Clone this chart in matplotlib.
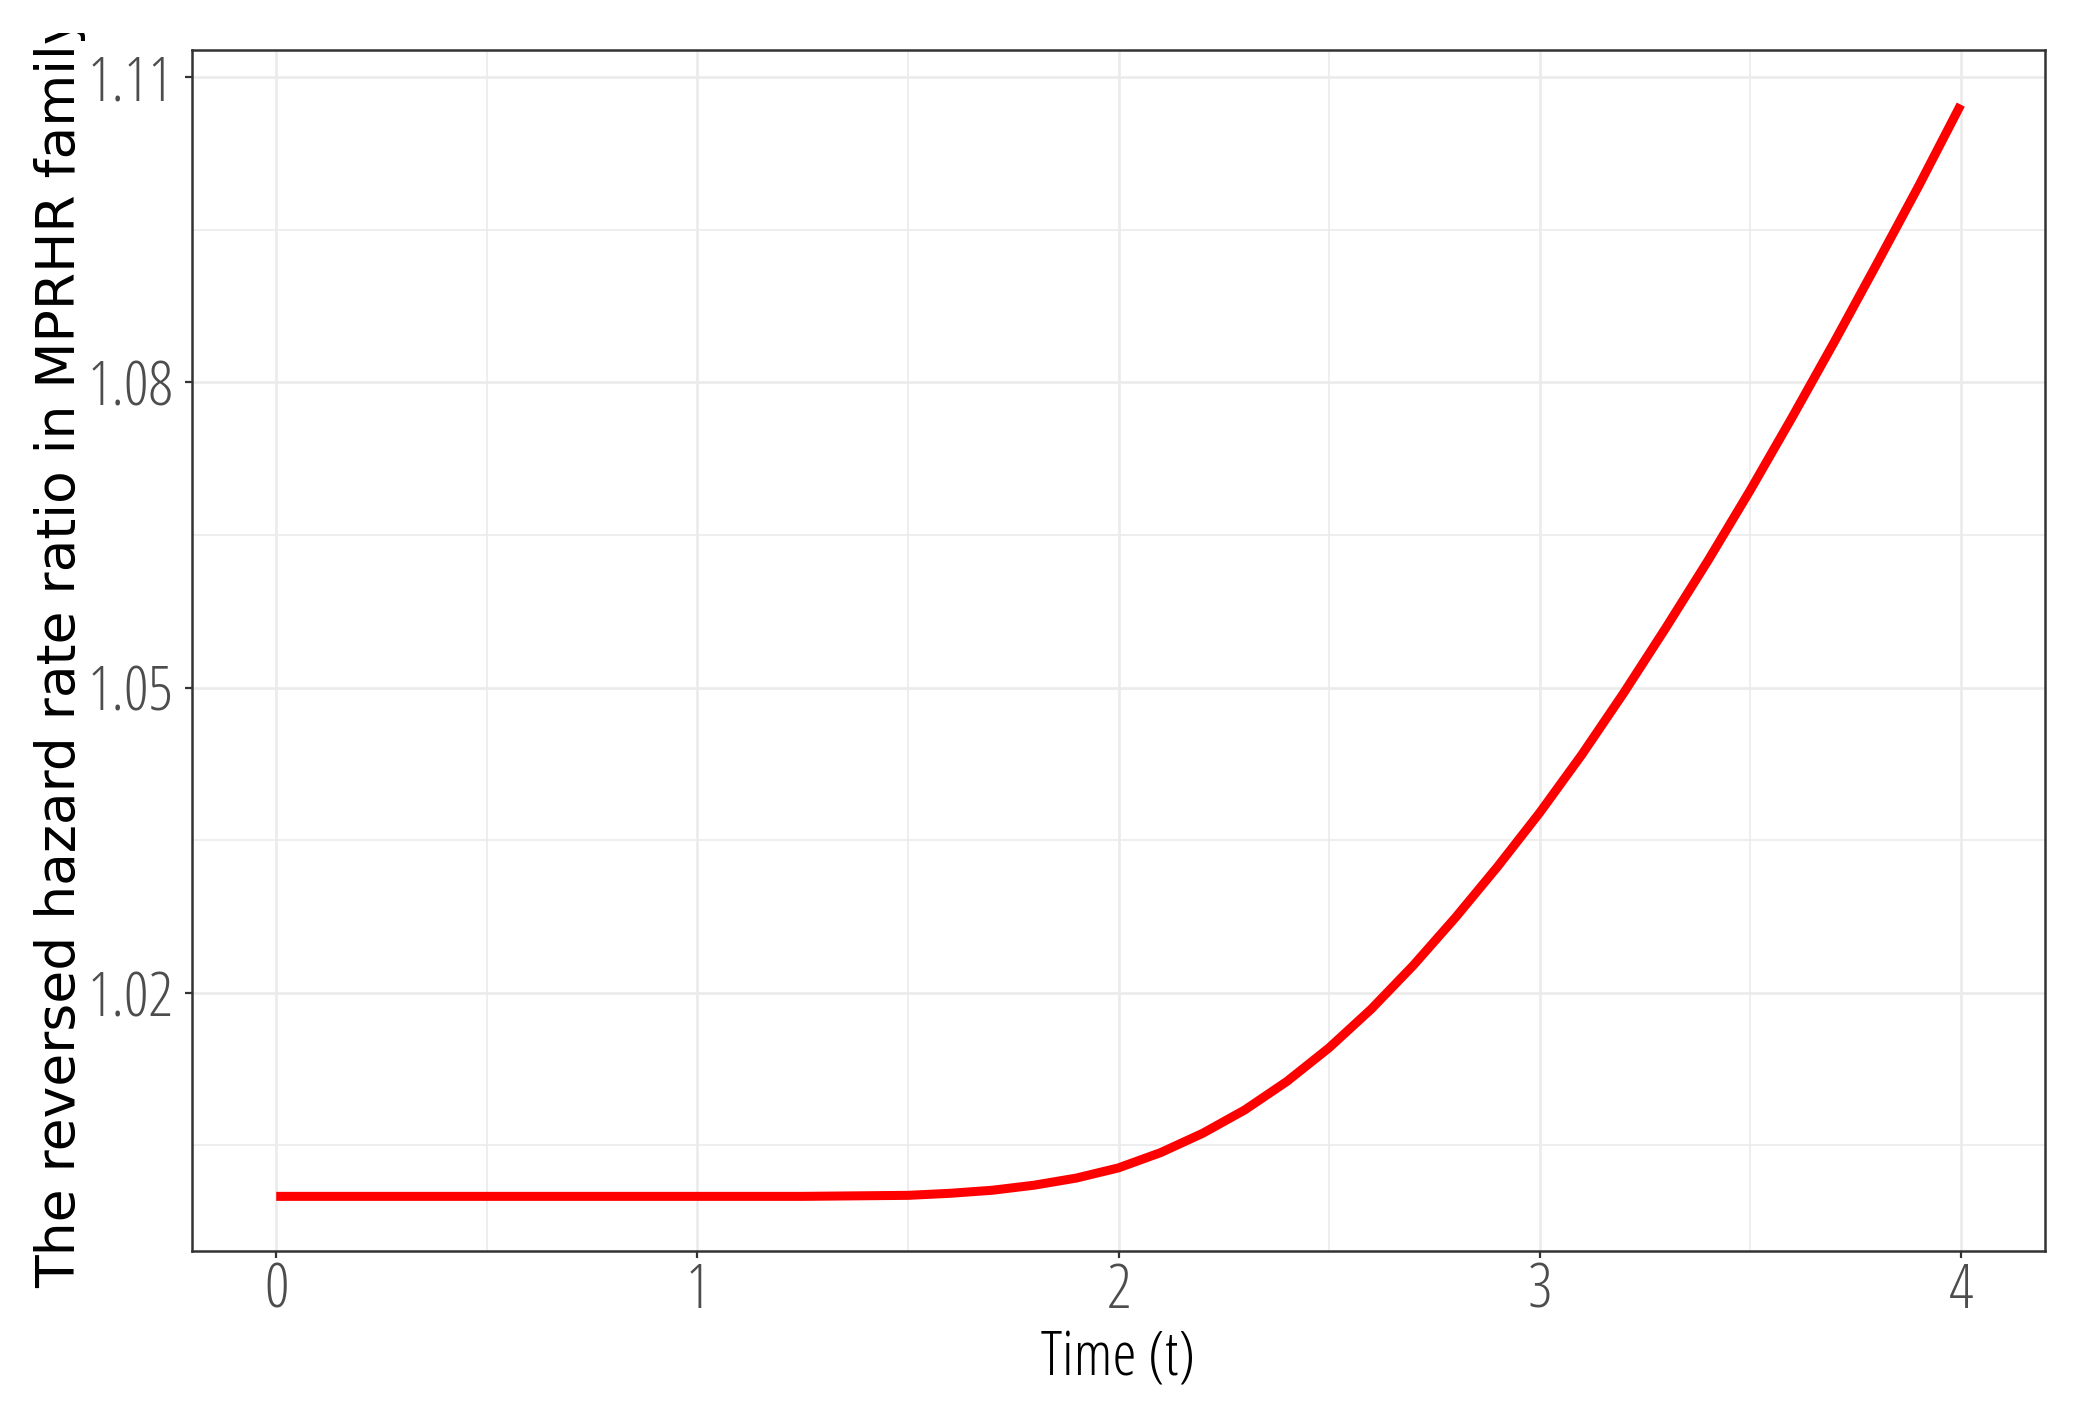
import matplotlib
matplotlib.use("Agg")
import matplotlib.pyplot as plt
from matplotlib.ticker import MultipleLocator, FixedLocator
from matplotlib.transforms import Bbox, TransformedBbox

# values
time_t = [0.0, 0.5, 1.0, 1.25, 1.5, 1.6, 1.7, 1.8, 1.9, 2.0, 2.1, 2.2, 2.3,
          2.4, 2.5, 2.6, 2.7, 2.8, 2.9, 3.0, 3.1, 3.2, 3.3, 3.4, 3.5, 3.6,
          3.7, 3.8, 3.9, 4.0]
ratio = [1.0000, 1.0000, 1.0000, 1.0000, 1.0001, 1.0003, 1.0006, 1.0011,
         1.0018, 1.0028, 1.0043, 1.0062, 1.0085, 1.0113, 1.0146, 1.0184,
         1.0227, 1.0274, 1.0324, 1.0377, 1.0434, 1.0495, 1.0559, 1.0625,
         1.0694, 1.0766, 1.0840, 1.0916, 1.0993, 1.1073]

x_ticks = [0, 1, 2, 3, 4]
y_ticks = [1.02, 1.05, 1.08, 1.11]
y_minor = [1.005, 1.035, 1.065, 1.095]

narrow = ['Open Sans']

fig = plt.figure(figsize=(20.8, 14.12), dpi=100)
ax = fig.add_axes([192/2080, 1 - 1251/1412, (2045-192)/2080, (1251-50)/1412])

ax.plot(time_t, ratio, color='#FF0000', lw=6.5, solid_capstyle='butt',
        solid_joinstyle='round', zorder=3)

ax.set_xlim(-0.2, 4.2)
ax.set_ylim(0.99463, 1.11267)
ax.xaxis.set_major_locator(FixedLocator(x_ticks))
ax.xaxis.set_minor_locator(MultipleLocator(0.5))
ax.yaxis.set_major_locator(FixedLocator(y_ticks))
ax.yaxis.set_minor_locator(FixedLocator(y_minor))
ax.set_yticklabels([f"{v:.2f}" for v in y_ticks])

ax.grid(which='major', color='#EBEBEB', lw=1.9)
ax.grid(which='minor', color='#EBEBEB', lw=1.2)
ax.set_axisbelow(True)

for s in ax.spines.values():
    s.set_color('#333333')
    s.set_linewidth(1.8)

ax.tick_params(which='major', length=5, width=1.6, color='#333333',
               labelcolor='#4D4D4D', labelsize=44)
ax.tick_params(which='minor', length=0)
ax.tick_params(axis='x', pad=2.5)
ax.tick_params(axis='y', pad=8.5)
for lab in ax.get_xticklabels() + ax.get_yticklabels():
    lab.set_family(narrow)
    lab.set_stretch('condensed')

ax.set_xlabel('Time (t)', fontsize=44, family=narrow, fontstretch='condensed',
              color='black')
ax.xaxis.set_label_coords(0.5, -0.065)
ax.set_ylabel('The reversed hazard rate ratio in MPRHR family', fontsize=38.5,
              family=['DejaVu Sans'], color='black')
ax.yaxis.set_label_coords(-0.0574, 0.5)
# the reference label runs past the top and is cut off there
ax.yaxis.label.set_clip_box(TransformedBbox(
    Bbox.from_extents(0, 0, 20.8, (1412 - 33) / 100), fig.dpi_scale_trans))
ax.yaxis.label.set_clip_on(True)

fig.savefig('out.png', dpi=100, facecolor='white')
